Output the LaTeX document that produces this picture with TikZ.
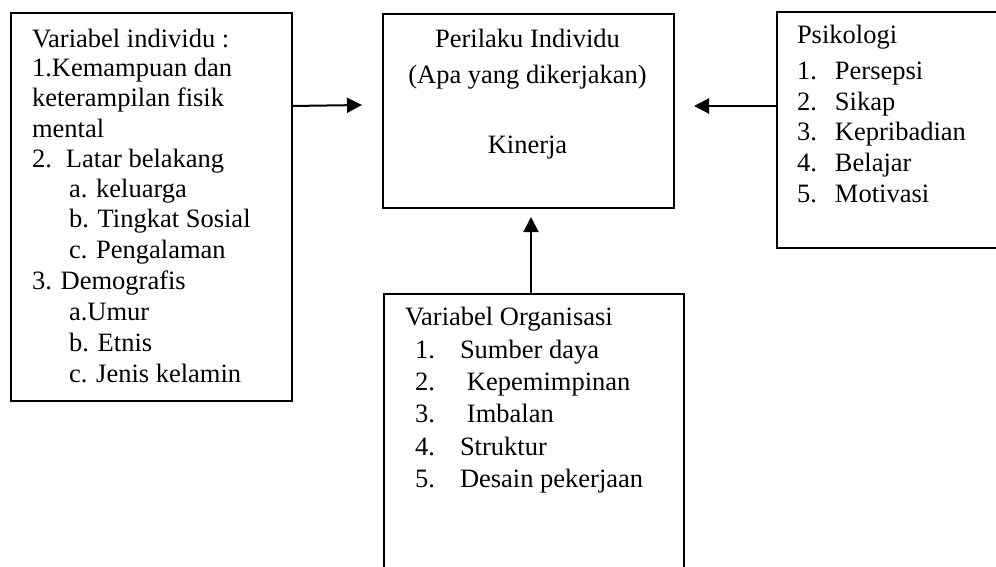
\documentclass[tikz,border=0pt]{standalone}
\usepackage{fontspec}
\setmainfont{Liberation Serif}
\usetikzlibrary{arrows.meta}
\tikzset{
  box/.style={draw=black, line width=1.8pt, rectangle, inner sep=0pt},
  txt/.style={inner sep=0pt, outer sep=0pt, font=\fontsize{26.5}{30}\selectfont, anchor=base west},
  ctxt/.style={txt, anchor=base},
  arr/.style={line width=2pt, -{Triangle[length=15pt,width=15pt]}}
}
\newcommand{\numitem}[2]{\makebox[#1][l]{#2}}
\begin{document}
\begin{tikzpicture}[x=1pt,y=-1pt]
\clip (0,0) rectangle (996,566);
\fill[white] (0,0) rectangle (996,566);
% boxes
\node[box, minimum width=281pt, minimum height=388pt, anchor=north west] (left) at (10,12) {};
\node[box, minimum width=291pt, minimum height=194pt, anchor=north west] (center) at (382,13) {};
\node[box, minimum width=260pt, minimum height=236pt, anchor=north west] (right) at (776,11) {};
\node[box, minimum width=300pt, minimum height=300pt, anchor=north west] (bottom) at (383,293) {};
% arrows
\coordinate (a1s) at (291,106);
\coordinate (a1e) at (362,105);
\coordinate (a2s) at (776,106);
\coordinate (a2e) at (694,106);
\coordinate (a3s) at (531,293);
\coordinate (a3e) at (531,217);
\draw[arr] (a1s) -- (a1e);
\draw[arr] (a2s) -- (a2e);
\draw[arr] (a3s) -- (a3e);
% left text
\node[txt] (l1) at (32,47) {Variabel individu :};
\node[txt] (l2) at (32,76) {1.Kemampuan dan};
\node[txt] (l3) at (32,106) {keterampilan fisik};
\node[txt] (l4) at (32,137) {mental};
\node[txt] (l5) at (32,167) {\numitem{34pt}{2.}Latar belakang};
\node[txt] (l6) at (69,197) {a. keluarga};
\node[txt] (l7) at (69,227) {b. Tingkat Sosial};
\node[txt] (l8) at (69,258) {c. Pengalaman};
\node[txt] (l9) at (32,289) {3. Demografis};
\node[txt] (l10) at (69,320) {a.Umur};
\node[txt] (l11) at (69,351) {b. Etnis};
\node[txt] (l12) at (69,382) {c. Jenis kelamin};
% center text
\node[ctxt] (c1) at (527.5,47) {Perilaku Individu};
\node[ctxt] (c2) at (527.5,83) {(Apa yang dikerjakan)};
\node[ctxt] (c3) at (527.5,153) {Kinerja};
% right text
\node[txt] (r0) at (797,43) {Psikologi};
\node[txt] (r1) at (797,79) {\numitem{38pt}{1.}Persepsi};
\node[txt] (r2) at (797,110) {\numitem{38pt}{2.}Sikap};
\node[txt] (r3) at (797,140) {\numitem{38pt}{3.}Kepribadian};
\node[txt] (r4) at (797,171) {\numitem{38pt}{4.}Belajar};
\node[txt] (r5) at (797,202) {\numitem{38pt}{5.}Motivasi};
% bottom text
\node[txt] (b0) at (405,325) {Variabel Organisasi};
\node[txt] (b1) at (415,358) {\numitem{45pt}{1.}Sumber daya};
\node[txt] (b2) at (415,390) {\numitem{52pt}{2.}Kepemimpinan};
\node[txt] (b3) at (415,422) {\numitem{52pt}{3.}Imbalan};
\node[txt] (b4) at (415,455) {\numitem{45pt}{4.}Struktur};
\node[txt] (b5) at (415,487) {\numitem{45pt}{5.}Desain pekerjaan};
\end{tikzpicture}
\end{document}
